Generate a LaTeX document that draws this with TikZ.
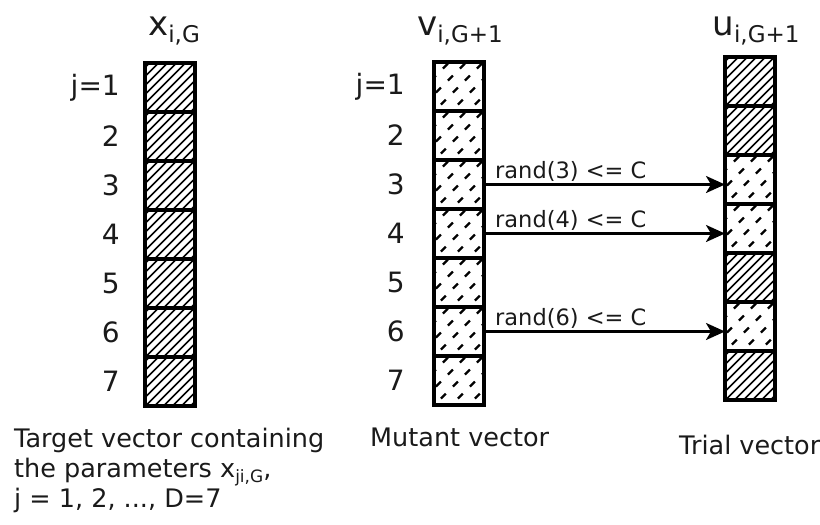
\documentclass[tikz,border=0pt]{standalone}
\usepackage{fontspec}
\setmainfont{DejaVu Sans}
\usetikzlibrary{arrows.meta}
\definecolor{ink}{HTML}{1A1A1A}
\tikzset{
  cell/.style={draw=black, line width=3.2pt, minimum width=50pt, minimum height=49pt,
    inner sep=0pt, outer sep=0pt},
  hatchcell/.style={cell, path picture={
      \foreach \k in {-72,-63,...,72}
        \draw[line width=1.5pt] ([xshift=\k pt]path picture bounding box.center)
          ++(-40,40) -- ++(80,-80);}},
  dashcell/.style={cell, path picture={
      \foreach \k in {-85,-68,...,85}
        \draw[line width=2.3pt, dash pattern=on 7pt off 10pt, dash phase=3pt]
          ([xshift=\k pt]path picture bounding box.center) ++(-40,40) -- ++(80,-80);}},
  rowlab/.style={text=ink, font=\fontsize{28}{32}\selectfont, anchor=east, inner sep=0pt},
  title/.style={text=ink, anchor=base, inner sep=0pt},
  caption/.style={text=ink, font=\fontsize{25.5}{30}\selectfont, anchor=north west,
    inner sep=0pt, align=left},
  randlab/.style={text=ink, font=\fontsize{22.5}{24}\selectfont, anchor=base west, inner sep=0pt},
  xarrow/.style={line width=2.6pt, -{Stealth[length=19pt, width=17pt, inset=5pt]}},
}
\newcommand{\vtitle}[2]{{\fontsize{34}{34}\selectfont #1}\raisebox{-7pt}{\fontsize{23}{23}\selectfont #2}}
\begin{document}
\begin{tikzpicture}[x=1pt, y=-1pt]
  \useasboundingbox (0,0) rectangle (820,525);

  % target vector x_{i,G}
  \foreach \r in {1,...,7}
    \node[hatchcell] (x\r) at (170, {63+49*(\r-1)+24.5}) {};
  % mutant vector v_{i,G+1}
  \foreach \r in {1,...,7}
    \node[dashcell] (v\r) at (459, {62+49*(\r-1)+24.5}) {};
  % trial vector u_{i,G+1}: rows 3, 4 and 6 come from the mutant
  \foreach \r/\s in {1/hatchcell,2/hatchcell,3/dashcell,4/dashcell,5/hatchcell,6/dashcell,7/hatchcell}
    \node[\s] (u\r) at (750, {57+49*(\r-1)+24.5}) {};

  % column titles
  \node[title] (tx) at (174,35) {\vtitle{x}{i,G}};
  \node[title] (tv) at (460,35) {\vtitle{v}{i,G+1}};
  \node[title] (tu) at (756,35) {\vtitle{u}{i,G+1}};

  % row indices
  \node[rowlab] (lx1) at ([xshift=-25pt]x1.west) {j=1};
  \foreach \r in {2,...,7}
    \node[rowlab] (lx\r) at ([xshift=-25pt]x\r.west) {\r};
  \node[rowlab] (lv1) at ([xshift=-29pt]v1.west) {j=1};
  \foreach \r in {2,...,7}
    \node[rowlab] (lv\r) at ([xshift=-29pt]v\r.west) {\r};

  % crossover arrows
  \foreach \r in {3,4,6} {
    \draw[xarrow] (v\r.east) -- (v\r.east -| u\r.west);
    \node[randlab] (rl\r) at ([xshift=11pt, yshift=6pt]v\r.east) {rand(\r) <= C};
  }

  % captions
  \node[caption] (cx) at (14,428) {Target vector containing\\the parameters x\raisebox{-5pt}{\fontsize{17}{17}\selectfont ji,G},\\j = 1, 2, ..., D=7};
  \node[caption] (cv) at (370,428) {Mutant vector};
  \node[caption] (cu) at (679,435) {Trial vector};
\end{tikzpicture}
\end{document}
